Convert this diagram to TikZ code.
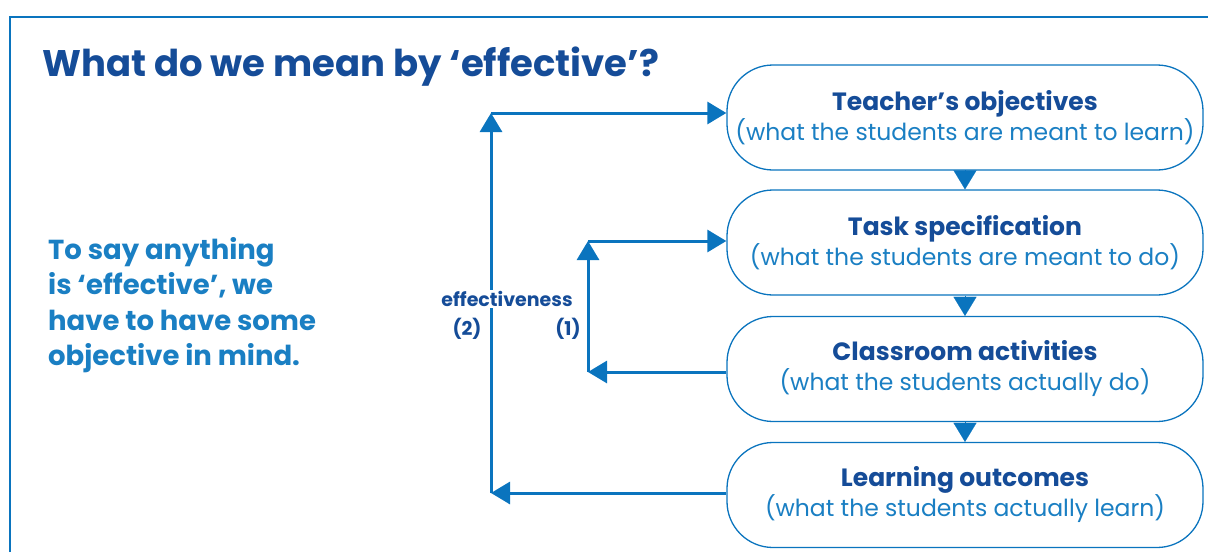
\documentclass[tikz,border=0pt]{standalone}
\usepackage{fontspec}
\setmainfont{Poppins}
\usetikzlibrary{arrows.meta,calc}
\definecolor{frameblue}{HTML}{0A74BE}
\definecolor{darkblue}{HTML}{154C98}
\definecolor{lightblue}{HTML}{1A7FC3}
\newcommand\boxhead[1]{{\fontsize{25}{30}\selectfont\bfseries\color{darkblue}#1}}
\newcommand\boxsub[1]{{\fontsize{23.5}{30}\selectfont\color{lightblue}#1}}
\begin{document}
\begin{tikzpicture}[x=1pt,y=-1pt,
  stagebox/.style={draw=frameblue,line width=1.3pt,rounded corners=46pt,minimum width=476pt,minimum height=105pt,align=center,inner sep=0pt,fill=white,font=\fontsize{23.5}{30}\selectfont},
  conn/.style={draw=frameblue,line width=3pt,-{Triangle[width=22pt,length=19pt]}},
  downtip/.style={draw=frameblue,line width=0.1pt,-{Triangle[width=23pt,length=19pt]}},
  lbl/.style={font=\fontsize{19}{22}\selectfont\bfseries,text=darkblue}]
\useasboundingbox (0,0) rectangle (1208,552);
\draw[frameblue,line width=2.2pt] (10,552) -- (10,17) -- (1210,17);
\node[anchor=base west,font=\fontsize{37}{42}\selectfont\bfseries,text=darkblue,inner sep=0pt] (title) at (42,76) {What do we mean by ‘effective’?};
\node[anchor=north west,align=left,font=\fontsize{27.5}{35.5}\selectfont\bfseries,text=lightblue,inner sep=0pt] (intro) at (48,237) {To say anything\\is ‘effective’, we\\have to have some\\objective in mind.};
\node[stagebox] (b1) at (965,117.5) {\boxhead{Teacher’s objectives}\\\boxsub{(what the students are meant to learn)}};
\node[stagebox] (b2) at (965,242.5) {\boxhead{Task specification}\\\boxsub{(what the students are meant to do)}};
\node[stagebox] (b3) at (965,369) {\boxhead{Classroom activities}\\\boxsub{(what the students actually do)}};
\node[stagebox] (b4) at (965,495) {\boxhead{Learning outcomes}\\\boxsub{(what the students actually learn)}};
\draw[downtip] (b1.south) -- (b2.north);
\draw[downtip] (b2.south) -- (b3.north);
\draw[downtip] (b3.south) -- (b4.north);
\coordinate (c2t) at (491,113);
\coordinate (c2b) at (491,493);
\coordinate (c1t) at (588,241);
\coordinate (c1b) at (588,372);
\draw[conn] (b4.west |- c2b) -- (c2b);
\draw[conn] (c2b) -- (c2t);
\draw[conn] (c2t) -- (b1.west |- c2t);
\draw[conn] (b3.west |- c1b) -- (c1b);
\draw[conn] (c1b) -- (c1t);
\draw[conn] (c1t) -- (b2.west |- c1t);
\node[lbl,fill=white,inner sep=1pt] (eff) at (507,299) {effectiveness};
\node[lbl,inner sep=0pt] (n2) at (467,329) {(2)};
\node[lbl,inner sep=0pt] (n1) at (568,329) {(1)};
\end{tikzpicture}
\end{document}
